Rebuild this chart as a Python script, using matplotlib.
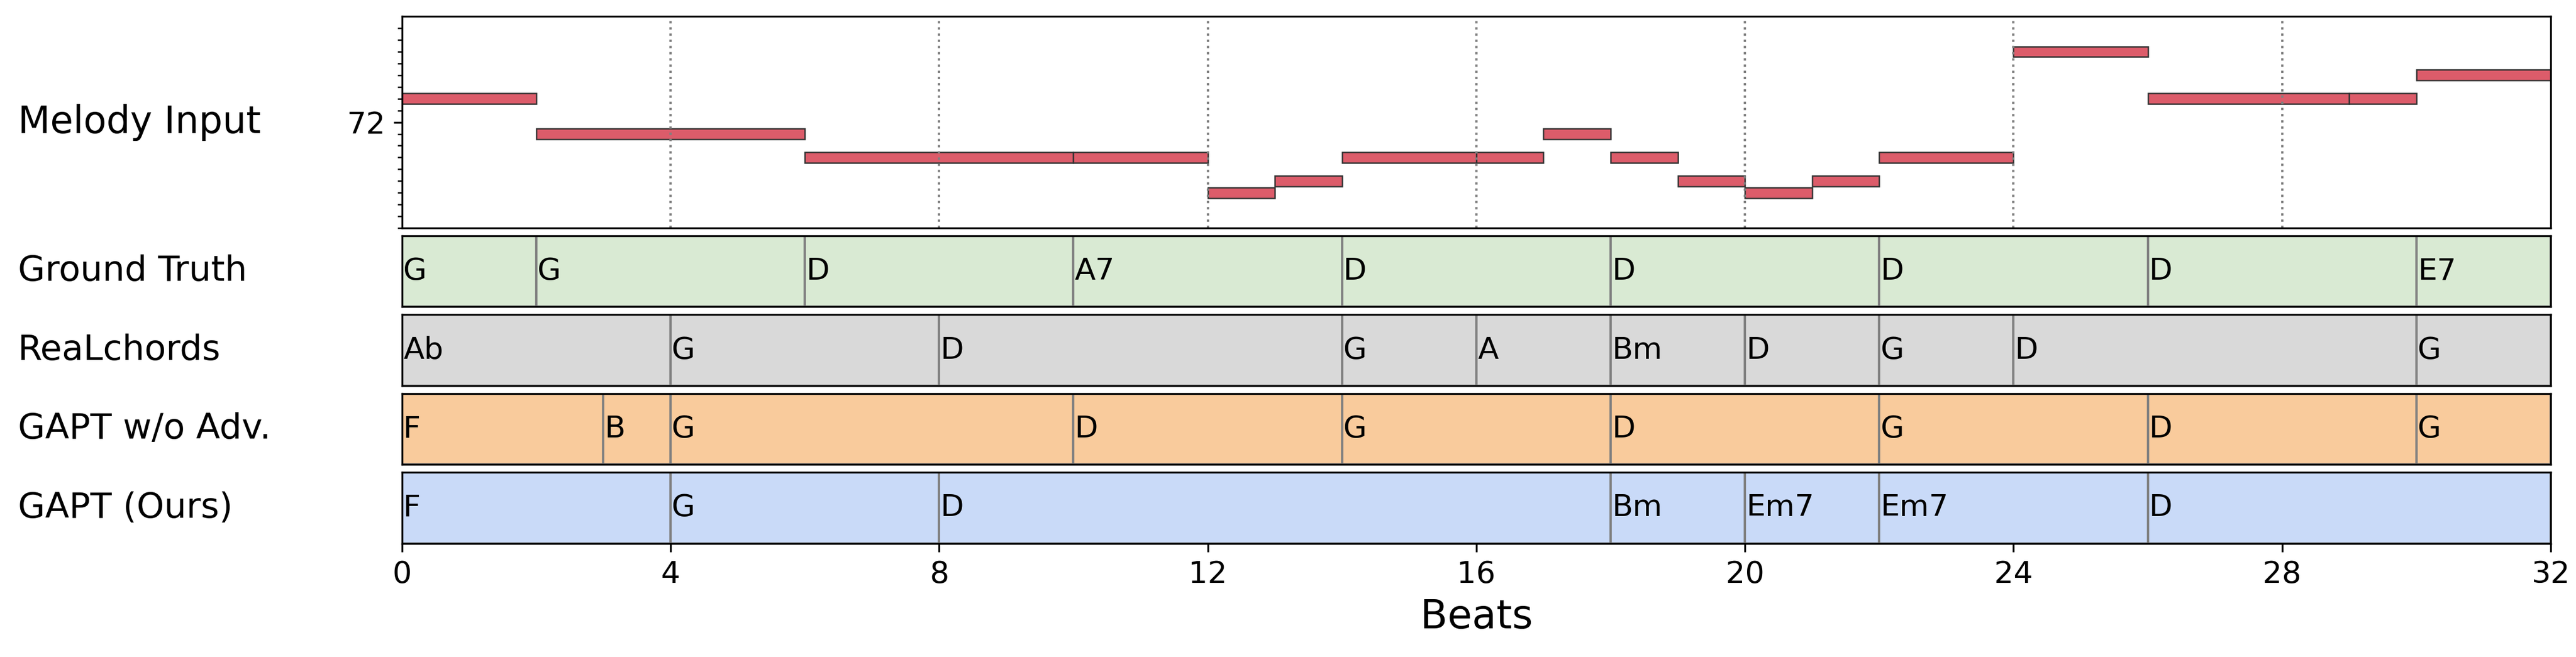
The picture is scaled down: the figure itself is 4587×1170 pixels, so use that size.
import numpy as np
import matplotlib.pyplot as plt

# melody notes: (start, end, pitch)
mel_start = [0, 2, 6, 10, 12, 13, 14, 16, 17, 18, 19, 20, 21, 22, 24, 26, 29, 30]
mel_end   = [2, 6, 10, 12, 13, 14, 16, 17, 18, 19, 20, 21, 22, 24, 26, 29, 30, 32]
mel_pitch = [74, 71, 69, 69, 66, 67, 69, 69, 71, 69, 67, 66, 67, 69, 78, 74, 74, 76]

rows = ['Ground Truth', 'ReaLchords', 'GAPT w/o Adv.', 'GAPT (Ours)']
row_colors = ['#d9ead3', '#d9d9d9', '#f9cb9c', '#c9daf8']
gt_onsets = [0, 2, 6, 10, 14, 18, 22, 26, 30]
gt_chords = ['G', 'G', 'D', 'A7', 'D', 'D', 'D', 'D', 'E7']
rl_onsets = [0, 4, 8, 14, 16, 18, 20, 22, 24, 30]
rl_chords = ['Ab', 'G', 'D', 'G', 'A', 'Bm', 'D', 'G', 'D', 'G']
na_onsets = [0, 3, 4, 10, 14, 18, 22, 26, 30]
na_chords = ['F', 'B', 'G', 'D', 'G', 'D', 'G', 'D', 'G']
ours_onsets = [0, 4, 8, 18, 20, 22, 26]
ours_chords = ['F', 'G', 'D', 'Bm', 'Em7', 'Em7', 'D']
onsets = [gt_onsets, rl_onsets, na_onsets, ours_onsets]
chords = [gt_chords, rl_chords, na_chords, ours_chords]
total = 32

fig = plt.figure(figsize=(15.293, 3.9), dpi=300)
left, width = 0.156, 0.834

ax = fig.add_axes([left, 0.653, width, 0.322])
ax.barh(mel_pitch, np.array(mel_end) - np.array(mel_start), left=mel_start, height=0.9,
        color='#dc5c6a', edgecolor='#333333', linewidth=0.6)
ax.set_xlim(0, total)
ax.set_ylim(63, 81)
ax.set_yticks([72])
ax.set_yticks(np.arange(63, 81), minor=True)
ax.tick_params(axis='y', labelsize=13)
ax.set_xticks([])
for x in range(4, total, 4):
    ax.axvline(x, color='gray', linestyle=':', linewidth=1)
fig.text(0.007, (0.653 + 0.975) / 2, 'Melody Input', fontsize=16, va='center')

row_h = 0.108
gap = 0.012
for i in range(4):
    bottom = 0.653 - gap - (i + 1) * row_h - i * gap
    a = fig.add_axes([left, bottom, width, row_h])
    ons = onsets[i]
    ends = ons[1:] + [total]
    a.barh(0, np.array(ends) - np.array(ons), left=ons, height=1,
           color=row_colors[i], edgecolor='gray', linewidth=1)
    for s, c in zip(ons, chords[i]):
        a.text(s + 0.02, 0, c, fontsize=13, va='center', ha='left')
    a.set_xlim(0, total)
    a.set_ylim(-0.5, 0.5)
    a.set_yticks([])
    for x in range(4, total, 4):
        a.axvline(x, color='gray', linestyle=':', linewidth=1, zorder=0.5)
    fig.text(0.007, bottom + row_h / 2, rows[i], fontsize=15, va='center')
    if i < 3:
        a.set_xticks([])
    else:
        a.set_xticks(range(0, total + 1, 4))
        a.tick_params(axis='x', labelsize=13)
        a.set_xlabel('Beats', fontsize=17)

fig.savefig('out.png')
